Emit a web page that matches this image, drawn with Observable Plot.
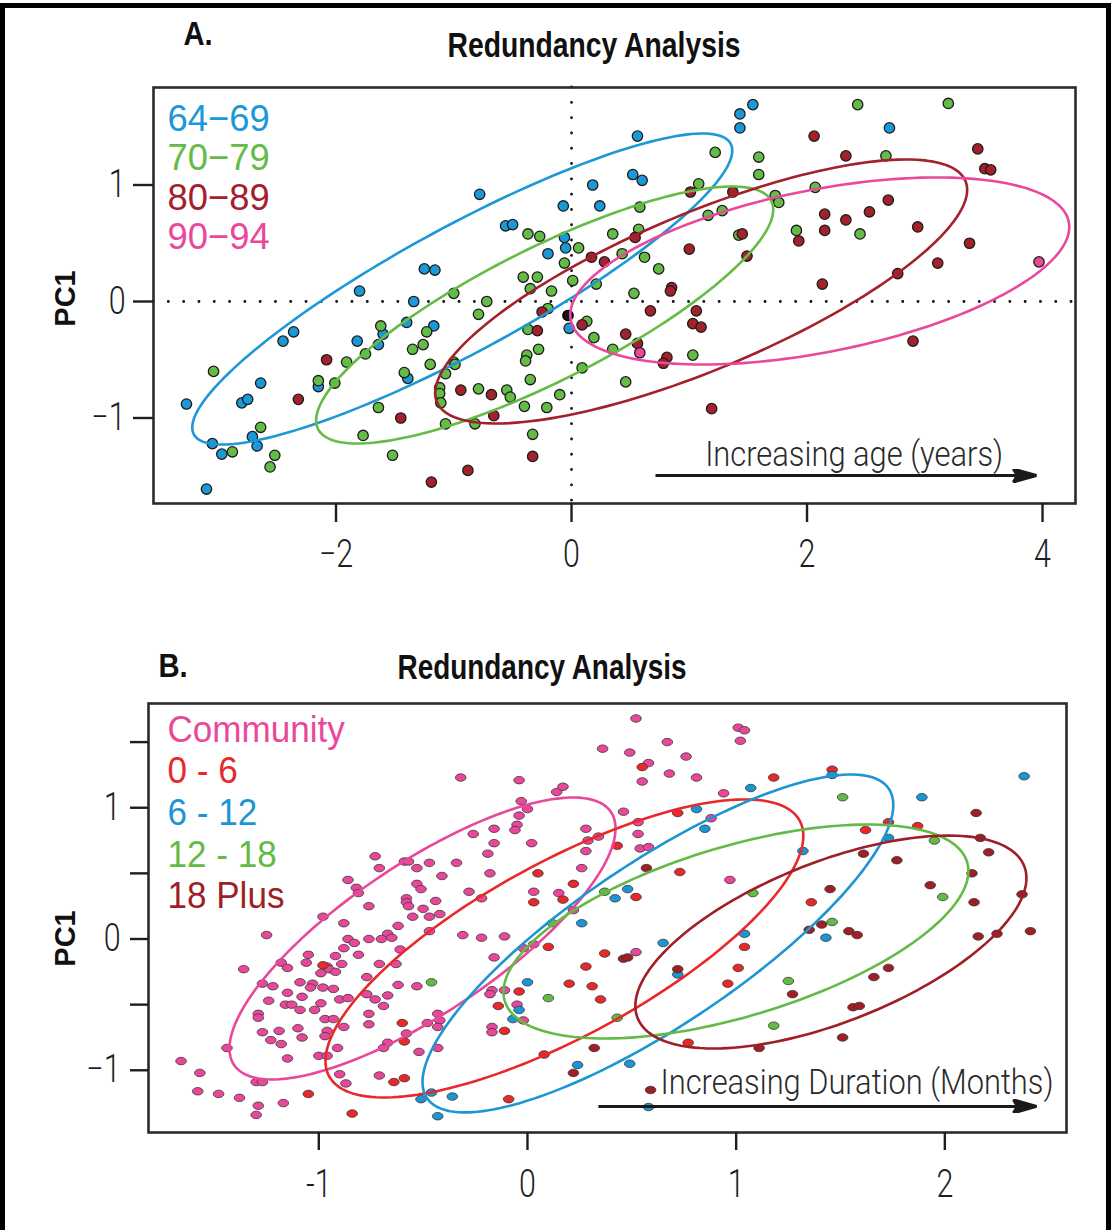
<!DOCTYPE html>
<html>
<head>
<meta charset="utf-8">
<script src="https://cdn.jsdelivr.net/npm/d3@7"></script>
<script src="https://cdn.jsdelivr.net/npm/@observablehq/plot@0.6"></script>
<style>
  html, body { margin: 0; padding: 0; background: #fff; }
  #page { position: relative; width: 1112px; height: 1230px; overflow: hidden; background: #fff; }
  #border { position: absolute; left: 0; top: 3px; width: 1111px; height: 1260px; border: 5px solid #000;
            box-sizing: border-box; z-index: 5; pointer-events: none; }
  .panel { position: absolute; left: 0; }
</style>
</head>
<body>
<div id="page"><div id="border"></div></div>
<script>
// ---------- Panel A: redundancy analysis by age group ----------
const ageGroups = ["64−69", "70−79", "80−89", "90−94"];
const ageColors = ["#1b98d5", "#64bb46", "#a3212b", "#e9489b"];
const ageXTicks = [-2, 0, 2, 4];
const ageYTicks = [-1, 0, 1];

const age6469 = [[-0.78,0.92],[0.18,1.00],[-0.07,0.82],[0.24,0.82],[-0.56,0.65],[-0.50,0.66],[-0.06,0.55],[-0.05,0.46],
  [-0.20,0.41],[-1.25,0.28],[-1.16,0.27],[-1.80,0.09],[-1.34,0.00],[1.54,1.69],[1.43,1.61],[1.43,1.49],[2.70,1.49],
  [0.56,1.42],[0.52,1.09],[0.60,1.04],[-0.02,-0.23],[-1.60,-0.28],[-1.40,-0.18],[-1.17,-0.21],[-2.36,-0.26],
  [-2.45,-0.34],[-1.82,-0.34],[-1.64,-0.37],[-1.39,-0.66],[-2.15,-0.73],[-2.64,-0.70],[-2.80,-0.87],[-2.75,-0.84],
  [-3.27,-0.88],[-2.71,-1.16],[-3.05,-1.22],[-2.67,-1.24],[-2.97,-1.31],[-3.10,-1.61]];

const age7079 = [[-0.37,0.58],[-0.27,0.56],[0.06,0.46],[-0.06,0.33],[-0.41,0.21],[-0.29,0.21],[-0.35,0.11],[-0.17,0.09],
  [0.01,0.18],[0.21,0.15],[-1.00,0.07],[-0.72,0.00],[2.43,1.69],[3.20,1.70],[2.67,1.25],[1.59,1.24],[1.59,1.09],
  [1.22,1.28],[1.08,1.01],[2.07,0.98],[0.58,0.81],[1.73,0.91],[1.76,0.85],[1.16,0.74],[1.28,0.78],[1.91,0.61],
  [2.45,0.58],[0.35,0.58],[0.57,0.62],[1.42,0.57],[0.43,0.41],[0.62,0.38],[0.74,0.28],[0.53,0.07],[-0.79,-0.11],
  [-0.20,-0.06],[0.13,-0.17],[0.19,-0.31],[-1.62,-0.21],[-1.23,-0.26],[-1.75,-0.45],[-1.35,-0.41],[-1.26,-0.37],
  [-0.37,-0.24],[-0.28,-0.41],[-0.38,-0.46],[-0.39,-0.51],[-1.00,-0.52],[-0.99,-0.54],[-1.20,-0.54],[-1.91,-0.52],
  [-1.07,-0.62],[-1.42,-0.61],[-2.15,-0.68],[-2.01,-0.70],[-0.35,-0.67],[0.09,-0.57],[-3.04,-0.60],[-1.12,-0.74],
  [-1.12,-0.79],[-1.11,-0.87],[-0.79,-0.75],[-0.55,-0.76],[-0.52,-0.82],[-0.10,-0.80],[-0.40,-0.90],[-0.21,-0.91],
  [-1.64,-0.91],[-1.07,-1.05],[-0.82,-1.05],[-2.64,-1.08],[-1.77,-1.15],[-0.33,-1.14],[-2.88,-1.29],[-2.52,-1.32],
  [-1.52,-1.32],[-2.56,-1.42],[0.35,-0.41],[1.03,-0.46],[0.46,-0.69]];

const age8089 = [[0.17,0.38],[2.06,1.42],[3.45,1.31],[2.33,1.25],[3.51,1.14],[3.56,1.13],[1.01,0.94],[1.37,0.94],
  [2.69,0.87],[2.15,0.75],[2.33,0.70],[2.53,0.77],[1.93,0.52],[2.15,0.61],[2.94,0.64],[3.38,0.50],[0.54,0.55],
  [1.45,0.58],[1.00,0.45],[0.28,0.34],[1.49,0.39],[3.11,0.33],[2.77,0.24],[0.85,0.12],[2.13,0.15],[-0.25,-0.09],
  [0.09,-0.20],[-0.29,-0.25],[-2.08,-0.50],[-2.32,-0.84],[-0.94,-0.76],[-0.68,-0.80],[-1.45,-1.00],[-0.66,-0.98],
  [-0.33,-1.33],[-0.88,-1.45],[-1.19,-1.55],[0.84,0.09],[0.67,-0.08],[1.06,-0.08],[1.03,-0.19],[1.10,-0.22],
  [0.46,-0.28],[0.56,-0.36],[0.81,-0.48],[0.78,-0.53],[2.90,-0.34],[1.19,-0.92]];

const age9094 = [[3.97,0.34],[0.58,-0.44]];
const ageUnassigned = [[-0.03,-0.12]];

// 95% ellipses: centre, horizontal and vertical half-extents, and tilt (cosine of phase lag)
const ageEllipses = [
  {cx: -0.928, cy: 0.107, w: 2.293, h: 1.335, rho: 0.89},
  {cx: -0.228, cy: -0.116, w: 1.941, h: 1.103, rho: 0.82},
  {cx: 1.101, cy: 0.086, w: 2.259, h: 1.133, rho: 0.77},
  {cx: 2.108, cy: 0.262, w: 2.119, h: 0.803, rho: 0.47}
];
const ageArrow = [{x1: 0.713, x2: 3.922, y: -1.494}];
const ageNote = [{x: 2.40, y: -1.408, text: "Increasing age (years)"}];

// ---------- Panel B: redundancy analysis by duration of stay ----------
const durationGroups = ["Community", "0 - 6", "6 - 12", "12 - 18", "18 Plus"];
const durationColors = ["#e9489a", "#e8282b", "#1c96d3", "#63ba46", "#9e1f25"];
const durXTicks = [-1, 0, 1, 2];
const durYTicks = [-1, -0.5, 0, 0.5, 1, 1.5];

const durCommunity = [[0.36,1.45],[-0.32,1.23],[-0.04,1.21],[0.14,1.12],[0.17,1.16],[-0.03,1.05],[0.00,0.99],[-0.04,0.94],
  [-0.05,0.87],[-0.06,0.83],[-0.16,0.84],[-0.26,0.80],[-0.16,0.73],[0.02,0.73],[-0.19,0.65],[0.28,0.84],[0.29,0.75],
  [0.34,0.78],[0.28,0.67],[0.26,0.54],[-0.73,0.63],[-0.71,0.54],[-0.59,0.59],[-0.57,0.59],[-0.53,0.54],[-0.47,0.58],
  [-0.34,0.58],[-0.41,0.48],[-0.18,0.50],[-0.86,0.45],[-0.82,0.39],[-0.81,0.35],[-0.53,0.42],[-0.51,0.38],[-0.28,0.36],
  [-0.22,0.31],[0.03,0.36],[0.15,0.35],[-0.58,0.31],[-0.58,0.28],[-0.57,0.25],[-0.44,0.29],[-0.76,0.25],[-0.50,0.23],
  [-0.42,0.19],[-0.55,0.17],[-0.47,0.17],[0.22,0.22],[-0.98,0.17],[-0.88,0.12],[-0.62,0.10],[-0.67,0.04],[-0.65,0.01],
  [-0.47,0.06],[-1.25,0.03],[-0.31,0.03],[-0.22,0.01],[-0.11,0.02],[-0.86,0.00],[-0.76,0.00],[-0.70,0.00],
  [0.52,1.68],[1.01,1.61],[1.04,1.59],[1.02,1.51],[0.49,1.42],[0.67,1.50],[0.76,1.39],[0.58,1.34],[0.68,1.26],
  [0.81,1.23],[0.55,1.20],[0.94,1.11],[0.46,0.97],[0.53,0.89],[0.88,0.92],[0.53,0.80],[0.54,0.69],[0.58,0.70],
  [0.97,0.45],[-0.83,-0.03],[-1.05,-0.12],[-0.92,-0.13],[-0.81,-0.12],[-0.88,-0.07],[-0.61,-0.08],[-1.18,-0.18],
  [-1.06,-0.18],[-0.89,-0.19],[-0.71,-0.19],[-0.63,-0.19],[-1.36,-0.23],[-1.15,-0.22],[-0.96,-0.21],[-0.95,-0.23],
  [-0.92,-0.25],[-0.99,-0.26],[0.03,-0.04],[-0.02,-0.07],[-0.16,-0.14],[-0.77,-0.29],[-1.27,-0.34],[-1.22,-0.36],
  [-1.09,-0.33],[-1.03,-0.34],[-1.04,-0.37],[-0.98,-0.37],[-0.93,-0.38],[-0.62,-0.35],[-0.53,-0.36],[-1.15,-0.41],
  [-1.08,-0.44],[-1.24,-0.47],[-0.99,-0.49],[-0.90,-0.46],[-0.86,-0.45],[-0.77,-0.42],[-0.67,-0.43],[-0.73,-0.46],
  [-1.16,-0.50],[-1.13,-0.50],[-1.09,-0.54],[-1.02,-0.54],[-0.69,-0.51],[-0.17,-0.39],[-0.18,-0.42],[-0.11,-0.39],
  [-0.05,-0.50],[-1.29,-0.57],[-1.29,-0.60],[-0.97,-0.61],[-0.93,-0.61],[-0.76,-0.57],[-0.43,-0.57],[-0.42,-0.62],
  [-0.48,-0.64],[-0.02,-0.62],[-0.76,-0.65],[-1.10,-0.68],[-1.27,-0.71],[-1.19,-0.70],[-0.96,-0.70],[-0.97,-0.74],
  [-1.08,-0.75],[-0.88,-0.67],[-0.58,-0.72],[-0.43,-0.67],[-0.17,-0.67],[-0.17,-0.71],[-1.23,-0.77],[-1.18,-0.80],
  [-0.67,-0.79],[-0.69,-0.83],[-0.91,-0.83],[-1.44,-0.83],[-1.00,-0.89],[-0.96,-0.89],[-0.52,-0.86],[-0.43,-0.83],
  [-1.15,-0.91],[-1.66,-0.93],[-1.57,-1.02],[-1.30,-1.09],[-1.27,-1.09],[-0.90,-1.03],[-0.87,-1.10],[-0.71,-1.04],
  [-1.58,-1.16],[-1.48,-1.18],[-1.38,-1.21],[-1.17,-1.25],[-1.29,-1.27],[-1.30,-1.34],[0.52,-0.10]];

const dur0to6 = [[0.43,0.71],[0.05,0.50],[0.22,0.42],[0.03,0.28],[0.17,0.30],[0.55,1.31],[1.18,1.23],[1.46,1.29],
  [0.72,0.96],[1.62,0.83],[1.87,0.86],[1.73,0.89],[0.73,0.51],[0.52,0.32],[1.36,0.28],[-0.98,-0.20],[-0.60,-0.64],
  [-0.59,-0.78],[-0.64,-1.09],[-0.59,-1.06],[-1.05,-1.18],[-0.84,-1.33],[0.10,-0.06],[-0.04,-0.40],[-0.14,-0.51],
  [-0.11,-0.70],[0.08,-0.88],[-0.09,-1.22],[0.37,-0.11],[0.28,-0.21],[0.20,-0.34],[0.31,-0.36],[0.35,-0.46],
  [1.04,-0.06],[1.01,-0.22],[0.96,-0.34],[0.77,-0.79]];

const dur6to12 = [[0.42,0.31],[0.26,0.12],[1.46,1.25],[1.07,1.15],[1.89,1.08],[2.38,1.24],[0.81,0.99],[0.85,0.84],
  [1.73,0.77],[1.32,0.67],[0.48,0.38],[1.04,0.04],[1.43,0.01],[0.00,-0.33],[-0.04,-0.54],[-0.07,-0.61],[0.24,-0.96],
  [-0.51,-1.22],[-0.46,-1.17],[-0.36,-1.20],[-0.43,-1.35],[0.65,-0.03],[0.49,-0.95],[0.58,-1.28],[0.72,-0.27]];

const dur12to18 = [[0.37,0.36],[0.12,0.12],[1.51,1.08],[1.95,0.75],[1.08,0.35],[1.99,0.32],[1.46,0.13],[-0.46,-0.33],
  [0.10,-0.45],[0.43,-0.60],[1.25,-0.32],[1.18,-0.66]];

const dur18plus = [[2.15,0.96],[2.17,0.77],[2.21,0.66],[1.61,0.65],[1.77,0.60],[0.57,0.54],[2.13,0.50],[1.45,0.38],
  [1.93,0.41],[2.37,0.34],[2.14,0.28],[1.35,0.07],[1.41,0.11],[1.54,0.06],[1.58,0.03],[2.16,0.02],[2.25,0.04],
  [2.41,0.06],[0.32,-0.83],[0.22,-1.02],[0.46,-0.15],[0.48,-0.14],[1.27,-0.42],[1.66,-0.29],[1.73,-0.22],
  [1.56,-0.52],[1.59,-0.51],[1.51,-0.75],[1.11,-0.83],[0.72,-0.23],[0.59,-1.15]];

const durEllipses = [
  {cx: -0.503, cy: 0.004, w: 0.925, h: 1.074, rho: 0.78},
  {cx: 0.177, cy: -0.072, w: 1.145, h: 1.135, rho: 0.755},
  {cx: 0.625, cy: -0.034, w: 1.128, h: 1.287, rho: 0.82},
  {cx: 0.999, cy: 0.057, w: 1.114, h: 0.815, rho: 0.565},
  {cx: 1.454, cy: -0.023, w: 0.937, h: 0.811, rho: 0.6}
];
const durArrow = [{x1: 0.340, x2: 2.425, y: -1.275}];
const durNote = [{x: 1.579, y: -1.179, text: "Increasing Duration (Months)"}];

const panelTitle = "Redundancy Analysis";

// ---------- helpers ----------
// Closed outline of an ellipse given its centre, half-extents and tilt.
function ellipseRing(e) {
  const phi = Math.acos(e.rho);
  return d3.range(0, 181).map(k => {
    const t = (2 * Math.PI * k) / 180;
    return {x: e.cx + e.w * Math.cos(t), y: e.cy + e.h * Math.cos(t - phi)};
  });
}

// Slightly flattened oval used for the panel B samples.
const oval = {
  draw(context, size) {
    const r = Math.sqrt(size / Math.PI);
    const rx = r * 1.42, ry = r, k = 0.5523;
    context.moveTo(rx, 0);
    context.bezierCurveTo(rx, ry * k, rx * k, ry, 0, ry);
    context.bezierCurveTo(-rx * k, ry, -rx, ry * k, -rx, 0);
    context.bezierCurveTo(-rx, -ry * k, -rx * k, -ry, 0, -ry);
    context.bezierCurveTo(rx * k, -ry, rx, -ry * k, rx, 0);
    context.closePath();
  }
};

// Solid triangular arrowhead.
function solidHead(color, context) {
  const doc = (context && context.document) || document;
  const ns = "http://www.w3.org/2000/svg";
  const m = doc.createElementNS(ns, "marker");
  m.setAttribute("viewBox", "-22 -7 26 14");
  m.setAttribute("markerUnits", "userSpaceOnUse");
  m.setAttribute("markerWidth", 26);
  m.setAttribute("markerHeight", 14);
  m.setAttribute("refX", 0);
  m.setAttribute("refY", 0);
  m.setAttribute("orient", "auto");
  const p = doc.createElementNS(ns, "path");
  p.setAttribute("d", "M3,0L-20,-6.5L-16,0L-20,6.5Z");
  p.setAttribute("fill", color);
  m.appendChild(p);
  return m;
}

const minusFormat = d => (d < 0 ? "−" + (-d) : String(d));
const tickFont = {fontFamily: "Roboto, 'Liberation Sans', sans-serif", fontWeight: 300, fontSize: 38};
const boldFont = "'Liberation Sans', Arial, sans-serif";

function legendMarks(labels, colors, dx, dys) {
  return labels.map((label, i) => Plot.text([label], {
    frameAnchor: "top-left", dx, dy: dys[i], lineAnchor: "bottom", text: d => d,
    fill: colors[i], fontSize: 37.5, fontFamily: "'Liberation Sans', Arial, sans-serif"
  }));
}

// text elements of an svg whose content is one of the given strings
function textsOf(svg, strings) {
  const wanted = new Set(strings);
  return Array.from(svg.querySelectorAll("text")).filter(t => wanted.has(t.textContent));
}
function squeezeEls(els, sx) {
  els.forEach(t => t.setAttribute("transform", (t.getAttribute("transform") || "") + ` scale(${sx},1)`));
}
function squeezeGroup(svg, label, sx) {
  squeezeEls(Array.from(svg.querySelectorAll(`g[aria-label="${label}"] text`)), sx);
}
function fitLength(els, len) {
  els.forEach(t => {
    t.setAttribute("textLength", len);
    t.setAttribute("lengthAdjust", "spacingAndGlyphs");
  });
}

// ---------- Panel A ----------
const ageSeries = [age6469, age7079, age8089, age9094];
const dotted = {strokeDasharray: "0.1 15.2", strokeLinecap: "round", strokeWidth: 2.8, stroke: "#111"};

const plotA = Plot.plot({
  width: 1112, height: 600,
  marginLeft: 153, marginRight: 37, marginTop: 87, marginBottom: 97,
  style: {background: "transparent", overflow: "visible", color: "#1e1e1e"},
  x: {domain: [-3.55, 4.28]},
  y: {domain: [-1.734, 1.837]},
  marks: [
    Plot.ruleY([0], dotted),
    Plot.ruleX([0], dotted),
    ...ageSeries.map((pts, i) => Plot.dot(pts, {x: d => d[0], y: d => d[1], r: 5.2, fill: ageColors[i], stroke: "#1c1c1c", strokeWidth: 1.3})),
    Plot.dot(ageUnassigned, {x: d => d[0], y: d => d[1], r: 5.2, fill: "#151515", stroke: "#000", strokeWidth: 1.3}),
    ...ageEllipses.map((e, i) => Plot.line(ellipseRing(e), {x: "x", y: "y", stroke: ageColors[i], strokeWidth: 2.6})),
    Plot.link(ageArrow, {x1: "x1", x2: "x2", y1: "y", y2: "y", stroke: "#1a1a1a", strokeWidth: 3, markerEnd: solidHead}),
    Plot.text(ageNote, {x: "x", y: "y", text: "text", textAnchor: "middle", lineAnchor: "bottom", fill: "#2a2a2a",
      fontSize: 35, fontWeight: 300, fontFamily: "Roboto, sans-serif"}),
    Plot.frame({stroke: "#2b2b2b", strokeWidth: 2.6}),
    Plot.axisX({ticks: ageXTicks, tickFormat: minusFormat, label: null, tickSize: 19, tickPadding: 18, strokeWidth: 2.4, ...tickFont}),
    Plot.axisY({ticks: ageYTicks, tickFormat: minusFormat, label: null, tickSize: 20, tickPadding: 8, strokeWidth: 2.4, ...tickFont}),
    Plot.text(["PC1"], {frameAnchor: "left", dx: -88, dy: 3, rotate: -90, text: d => d, textAnchor: "middle",
      lineAnchor: "middle", fontSize: 29, fontWeight: "bold", fontFamily: boldFont, fill: "#111"}),
    Plot.text([panelTitle], {frameAnchor: "top", dx: -20.5, dy: -31, lineAnchor: "bottom", text: d => d,
      fontSize: 35, fontWeight: "bold", fontFamily: boldFont, fill: "#111"}),
    Plot.text(["A."], {frameAnchor: "top-left", dx: 30, dy: -43, lineAnchor: "bottom", text: d => d,
      fontSize: 34, fontWeight: "bold", fontFamily: boldFont, fill: "#111"}),
    ...legendMarks(ageGroups, ageColors, 14, [43, 82, 122, 161])
  ]
});

// ---------- Panel B ----------
const durSeries = [durCommunity, dur0to6, dur6to12, dur12to18, dur18plus];

const plotB = Plot.plot({
  width: 1112, height: 630,
  marginLeft: 148, marginRight: 46, marginTop: 103, marginBottom: 98,
  style: {background: "transparent", overflow: "visible", color: "#1e1e1e"},
  x: {domain: [-1.816, 2.583]},
  y: {domain: [-1.474, 1.794]},
  marks: [
    ...durSeries.map((pts, i) => Plot.dot(pts, {x: d => d[0], y: d => d[1], r: 3.75, symbol: oval, fill: durationColors[i], stroke: "#3a3a3a", strokeWidth: 0.8})),
    ...durEllipses.map((e, i) => Plot.line(ellipseRing(e), {x: "x", y: "y", stroke: durationColors[i], strokeWidth: 2.6})),
    Plot.link(durArrow, {x1: "x1", x2: "x2", y1: "y", y2: "y", stroke: "#1a1a1a", strokeWidth: 3, markerEnd: solidHead}),
    Plot.text(durNote, {x: "x", y: "y", text: "text", textAnchor: "middle", lineAnchor: "bottom", fill: "#2a2a2a",
      fontSize: 35, fontWeight: 300, fontFamily: "Roboto, sans-serif"}),
    Plot.frame({stroke: "#2b2b2b", strokeWidth: 2.6}),
    Plot.axisX({ticks: durXTicks, tickFormat: d => (d < 0 ? "-" + (-d) : String(d)), label: null, tickSize: 18, tickPadding: 20, strokeWidth: 2.4, ...tickFont}),
    Plot.axisY({ticks: durYTicks, tickFormat: d => (Number.isInteger(d) ? minusFormat(d) : ""), label: null,
      tickSize: 18, tickPadding: 10, strokeWidth: 2.4, ...tickFont}),
    Plot.text(["PC1"], {frameAnchor: "left", dx: -83, dy: 20.5, rotate: -90, text: d => d, textAnchor: "middle",
      lineAnchor: "middle", fontSize: 29, fontWeight: "bold", fontFamily: boldFont, fill: "#111"}),
    Plot.text([panelTitle], {frameAnchor: "top", dx: -65.5, dy: -25, lineAnchor: "bottom", text: d => d,
      fontSize: 35, fontWeight: "bold", fontFamily: boldFont, fill: "#111"}),
    Plot.text(["B."], {frameAnchor: "top-left", dx: 10, dy: -27, lineAnchor: "bottom", text: d => d,
      fontSize: 34, fontWeight: "bold", fontFamily: boldFont, fill: "#111"}),
    ...legendMarks(durationGroups, durationColors, 19, [38, 79, 121, 163, 204])
  ]
});

const page = document.getElementById("page");
plotA.classList.add("panel"); plotA.style.top = "0px";
plotB.classList.add("panel"); plotB.style.top = "600px";
page.appendChild(plotA);
page.appendChild(plotB);

// condensed lettering
for (const svg of [plotA, plotB]) {
  squeezeGroup(svg, "x-axis tick label", 0.8);
  squeezeGroup(svg, "y-axis tick label", 0.8);
  squeezeEls(textsOf(svg, ["A.", "B."]), 0.86);
}
squeezeEls(textsOf(plotA, ageGroups), 0.97);
squeezeEls(textsOf(plotB, durationGroups), 0.935);
fitLength(textsOf(plotA, [panelTitle]), 293);
fitLength(textsOf(plotB, [panelTitle]), 289);
fitLength(textsOf(plotA, [ageNote[0].text]), 298);
fitLength(textsOf(plotB, [durNote[0].text]), 393);
</script>
</body>
</html>
